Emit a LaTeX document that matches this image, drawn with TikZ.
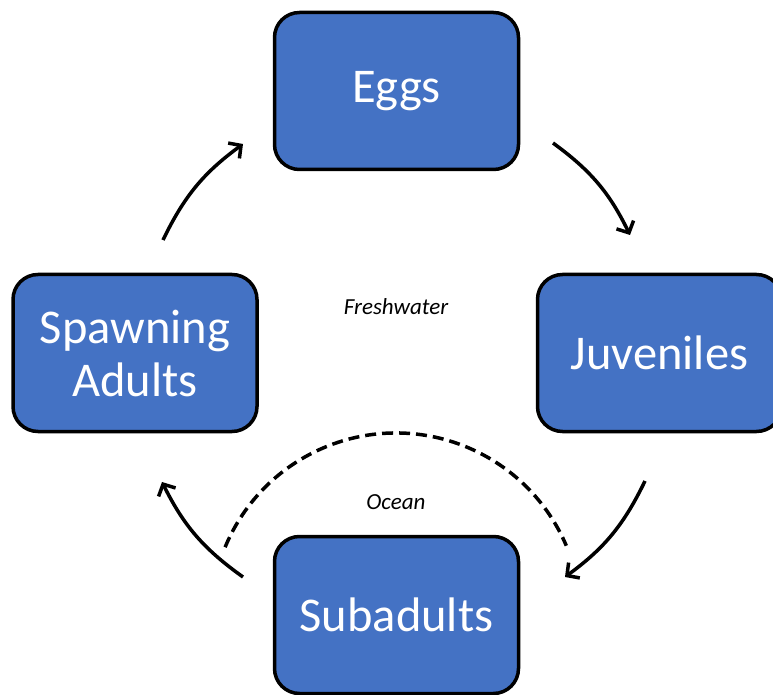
\documentclass[tikz,border=0pt]{standalone}
\usepackage{fontspec}
\setmainfont{Carlito}
\usetikzlibrary{arrows.meta}
\definecolor{boxblue}{HTML}{4472C4}
\tikzset{
  stagebox/.style={draw=black, line width=3.5pt, fill=boxblue, rounded corners=25pt,
    minimum width=244pt, minimum height=157pt, text=white, align=center,
    font=\fontsize{48.5}{53}\selectfont, inner sep=0pt},
  cyclearrow/.style={line width=3.5pt, -{Straight Barb[length=9pt,width=19pt,line width=3.5pt]}, bend left=14},
  envlabel/.style={font=\fontsize{23}{27}\selectfont\itshape, inner sep=0pt},
  oceanline/.style={line width=3.5pt, dash pattern=on 11pt off 6pt}
}
\begin{document}
\begin{tikzpicture}[x=1pt, y=1pt]
\clip (0,0) rectangle (773,694);
\fill[white] (0,0) rectangle (773,694);
\node[stagebox] (eggs) at (396.5,603) {Eggs};
\node[stagebox] (juv) at (659.5,341) {Juveniles};
\node[stagebox] (spawn) at (135,341) {Spawning\\Adults};
\node[stagebox] (sub) at (396.5,79) {Subadults};
\node[envlabel] (fresh) at (396,387) {Freshwater};
\node[envlabel] (ocean) at (396,192) {Ocean};
\coordinate (a1s) at (163,454);
\coordinate (a1e) at (243,550);
\coordinate (a2s) at (553,551);
\coordinate (a2e) at (630,459);
\coordinate (a3s) at (645,213);
\coordinate (a3e) at (565,117);
\coordinate (a4s) at (243,117);
\coordinate (a4e) at (162,212);
\coordinate (dstart) at (225.1,146.8);
\draw[cyclearrow] (a1s) to (a1e);
\draw[cyclearrow] (a2s) to (a2e);
\draw[cyclearrow] (a3s) to (a3e);
\draw[cyclearrow] (a4s) to (a4e);
\draw[oceanline] (dstart) arc[start angle=157.5, end angle=23, radius=185pt];
\end{tikzpicture}
\end{document}
